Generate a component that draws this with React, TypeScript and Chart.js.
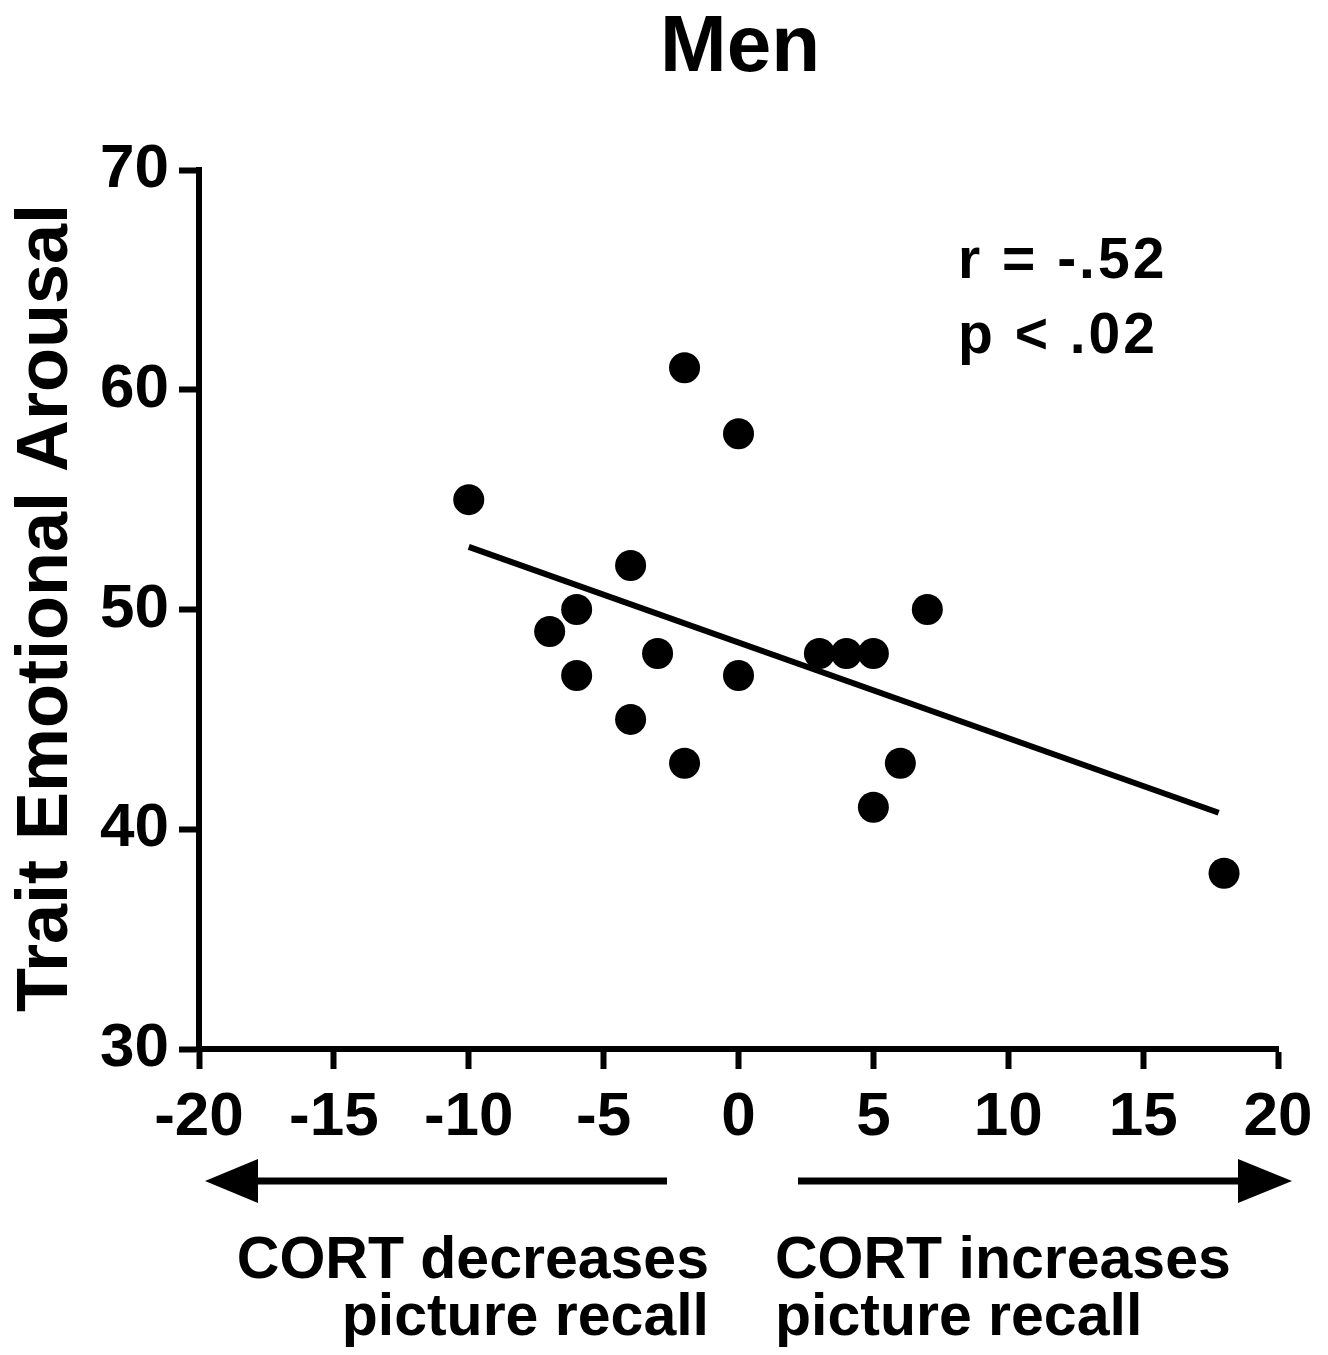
import React, { useEffect, useRef } from "react";
import { Chart, registerables } from "chart.js";

Chart.register(...registerables);

const xValues = [-10, -2, 0, -4, -6, -7, -6, -3, -4, -2, 0, 3, 4, 5, 7, 6, 5, 18];
const yValues = [55, 61, 58, 52, 50, 49, 47, 48, 45, 43, 47, 48, 48, 48, 50, 43, 41, 38];
const fitX = [-10, 17.8];
const fitY = [52.85, 40.75];
const xTicks = [-20, -15, -10, -5, 0, 5, 10, 15, 20];
const yTicks = [30, 40, 50, 60, 70];
const titleText = "Men";
const yTitle = "Trait Emotional Arousal";
const statLines = ["r = -.52", "p < .02"];
const leftCaption = ["CORT decreases", "picture recall"];
const rightCaption = ["CORT increases", "picture recall"];

const FONT = "'Liberation Sans', Arial, sans-serif";

const W = 1328;
const H = 1355;

const decorPlugin = {
  id: "decor",
  afterDraw(chart: any) {
    const ctx = chart.ctx as CanvasRenderingContext2D;
    ctx.save();
    ctx.fillStyle = "#000";
    ctx.strokeStyle = "#000";

    // Title
    ctx.font = `bold 80px ${FONT}`;
    ctx.textAlign = "center";
    ctx.textBaseline = "alphabetic";
    ctx.fillText(titleText, 740, 71);

    // Y axis title
    ctx.save();
    ctx.translate(67, 608);
    ctx.rotate(-Math.PI / 2);
    ctx.font = `bold 72px ${FONT}`;
    ctx.textAlign = "center";
    ctx.textBaseline = "alphabetic";
    ctx.fillText(yTitle, 0, 0);
    ctx.restore();

    // Stats annotation
    ctx.font = `bold 57px ${FONT}`;
    ctx.textAlign = "left";
    (ctx as any).letterSpacing = "3px";
    ctx.fillText(statLines[0], 958, 278);
    ctx.fillText(statLines[1], 958, 353);
    (ctx as any).letterSpacing = "0px";

    // Arrows
    const ay = 1181;
    const shaft = 7;
    const headHalf = 22;
    // left arrow
    ctx.fillRect(255, ay - shaft / 2, 667 - 255, shaft);
    ctx.beginPath();
    ctx.moveTo(205, ay);
    ctx.lineTo(258, ay - headHalf);
    ctx.lineTo(258, ay + headHalf);
    ctx.closePath();
    ctx.fill();
    // right arrow
    ctx.fillRect(798, ay - shaft / 2, 1240 - 798, shaft);
    ctx.beginPath();
    ctx.moveTo(1292, ay);
    ctx.lineTo(1238, ay - headHalf);
    ctx.lineTo(1238, ay + headHalf);
    ctx.closePath();
    ctx.fill();

    // Captions
    ctx.font = `bold 59px ${FONT}`;
    ctx.textAlign = "right";
    ctx.fillText(leftCaption[0], 709, 1278);
    ctx.fillText(leftCaption[1], 709, 1335);
    ctx.textAlign = "left";
    ctx.fillText(rightCaption[0], 775, 1278);
    ctx.fillText(rightCaption[1], 775, 1335);
    ctx.restore();
  },
};

export default function App() {
  const ref = useRef<HTMLCanvasElement | null>(null);

  useEffect(() => {
    if (!ref.current) return;
    const chart = new Chart(ref.current, {
      type: "scatter",
      data: {
        datasets: [
          {
            type: "scatter",
            label: "points",
            data: xValues.map((x, i) => ({ x, y: yValues[i] })),
            backgroundColor: "#000",
            borderColor: "#000",
            pointRadius: 15.5,
            pointHoverRadius: 15.5,
            borderWidth: 0,
          },
          {
            type: "line",
            label: "fit",
            data: fitX.map((x, i) => ({ x, y: fitY[i] })),
            borderColor: "#000",
            borderWidth: 6,
            pointRadius: 0,
            fill: false,
            showLine: true,
          } as any,
        ],
      },
      options: {
        animation: false,
        responsive: false,
        devicePixelRatio: 1,
        events: [],
        layout: { padding: { top: 170, right: 50, left: 0, bottom: 0 } },
        plugins: {
          legend: { display: false },
          tooltip: { enabled: false },
          title: { display: false },
        },
        scales: {
          x: {
            type: "linear",
            min: -20,
            max: 20,
            afterBuildTicks: (s: any) => {
              s.ticks = xTicks.map((v) => ({ value: v }));
            },
            afterFit: (s: any) => {
              s.height = H - 1049;
            },
            grid: {
              display: true,
              drawOnChartArea: false,
              drawTicks: true,
              tickLength: 20,
              tickWidth: 6,
              tickColor: "#000",
            },
            border: { display: true, width: 6, color: "#000" },
            ticks: {
              color: "#000",
              padding: 12,
              maxRotation: 0,
              autoSkip: false,
              font: { family: FONT, size: 62, weight: "bold" },
            },
          },
          y: {
            type: "linear",
            min: 30,
            max: 70,
            afterBuildTicks: (s: any) => {
              s.ticks = yTicks.map((v) => ({ value: v }));
            },
            afterFit: (s: any) => {
              s.width = 199;
            },
            grid: {
              display: true,
              drawOnChartArea: false,
              drawTicks: true,
              tickLength: 20,
              tickWidth: 6,
              tickColor: "#000",
            },
            border: { display: true, width: 6, color: "#000" },
            ticks: {
              color: "#000",
              padding: 10,
              autoSkip: false,
              font: { family: FONT, size: 62, weight: "bold" },
            },
          },
        },
      },
      plugins: [decorPlugin],
    });
    return () => chart.destroy();
  }, []);

  return (
    <div style={{ position: "absolute", left: 0, top: 0, width: W, height: H, background: "#fff" }}>
      <canvas ref={ref} width={W} height={H} style={{ display: "block", width: W, height: H }} />
    </div>
  );
}
